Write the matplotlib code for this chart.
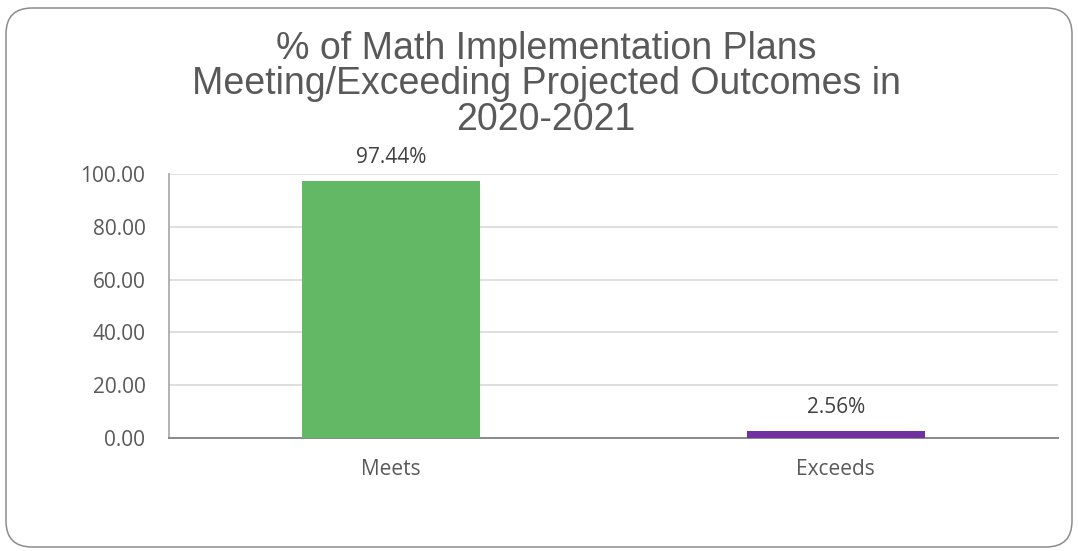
import matplotlib
matplotlib.use("Agg")
import matplotlib.pyplot as plt
from matplotlib.patches import FancyBboxPatch
from matplotlib.ticker import FuncFormatter

# outcome categories and share of plans (%)
categories = ["Meets", "Exceeds"]
percentages = [97.44, 2.56]
bar_colors = ["#63B866", "#7030A0"]
y_ticks = [0, 20, 40, 60, 80, 100]

title = "% of Math Implementation Plans\nMeeting/Exceeding Projected Outcomes in\n2020-2021"

text_grey = "#595959"

fig = plt.figure(figsize=(10.78, 5.51), dpi=100)
fig.patch.set_facecolor("white")

# rounded frame around the whole chart (pixel coordinates)
frame = FancyBboxPatch((6, 4), 1066, 539, boxstyle="round,pad=0,rounding_size=26",
                       transform=None, facecolor="none", edgecolor="#8C8C8C", linewidth=1.1)
fig.add_artist(frame)

ax = fig.add_axes([169 / 1078, 113 / 551, 889 / 1078, 264 / 551])

x = list(range(len(categories)))
bars = ax.bar(x, percentages, width=0.4, color=bar_colors, zorder=3)

for rect, val in zip(bars, percentages):
    ax.annotate(f"{val:.2f}%", (rect.get_x() + rect.get_width() / 2, rect.get_height()),
                xytext=(0, 13), textcoords="offset points", ha="center", va="baseline",
                fontsize=15, family="Open Sans", color="#404040")

ax.set_xlim(-0.5, len(categories) - 0.5)
ax.set_ylim(0, 100)
ax.set_yticks(y_ticks)
ax.yaxis.set_major_formatter(FuncFormatter(lambda v, _: f"{v:.2f}"))
ax.set_xticks(x)
ax.set_xticklabels(categories)

ax.grid(axis="y", color="#D9D9D9", linewidth=1.2, zorder=0)
ax.tick_params(axis="both", length=0, labelsize=15, labelcolor=text_grey)
ax.tick_params(axis="y", pad=17)
ax.tick_params(axis="x", pad=15)
for lbl in ax.get_xticklabels() + ax.get_yticklabels():
    lbl.set_family("Open Sans")

for side in ["top", "right"]:
    ax.spines[side].set_visible(False)
ax.spines["left"].set_color("#A6A6A6")
ax.spines["left"].set_linewidth(1.2)
ax.spines["bottom"].set_color("#898989")
ax.spines["bottom"].set_linewidth(1.4)

fig.text(546 / 1078, 1 - 31 / 551, title, ha="center", va="top", fontsize=27,
         family="Liberation Sans", color=text_grey, linespacing=0.98)

fig.savefig("out.png", dpi=100)
